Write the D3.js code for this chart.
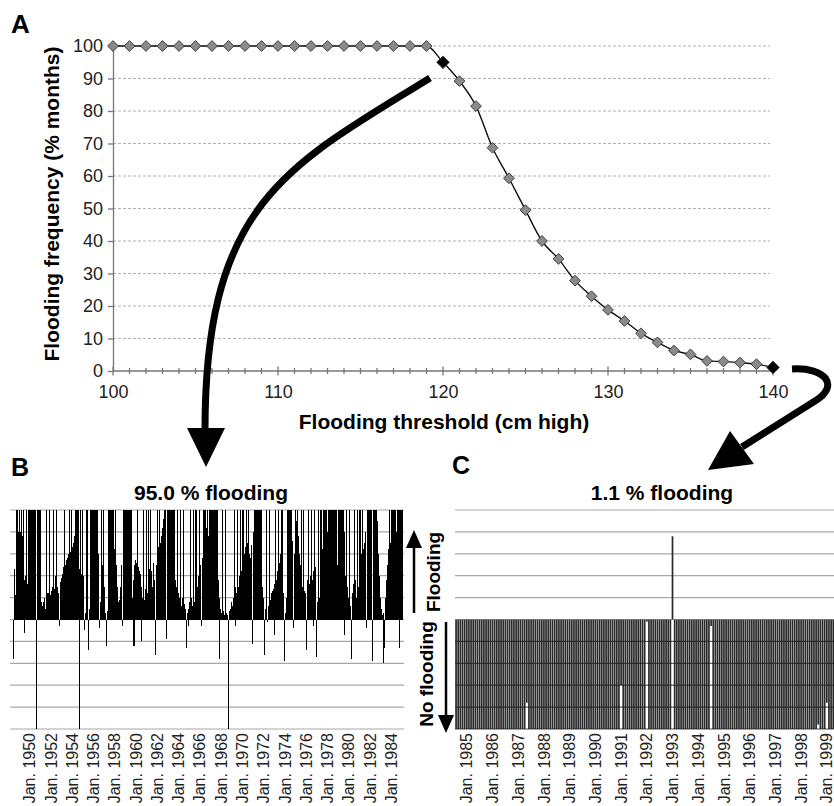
<!DOCTYPE html>
<html>
<head>
<meta charset="utf-8">
<script src="https://cdn.jsdelivr.net/npm/d3@7"></script>
<style>
  body { margin: 0; background: #fff; }
  svg { display: block; font-family: "Liberation Sans", Arial, sans-serif; }
</style>
</head>
<body>
<svg id="chart" width="834" height="806"></svg>
<script>
// ---- panel A: flooding frequency against threshold height
const thresholds = [100,101,102,103,104,105,106,107,108,109,110,111,112,113,114,115,116,117,118,119,120,
  121,122,123,124,125,126,127,128,129,130,131,132,133,134,135,136,137,138,139,140]
const floodFreq = [100,100,100,100,100,100,100,100,100,100,100,100,100,100,100,100,100,100,100,100,95.0,
  89.2,81.5,68.7,59.3,49.5,40.0,34.5,27.8,23.0,18.8,15.4,11.6,8.8,6.3,5.1,3.1,2.9,2.6,2.1,1.1]
const highlighted = [120, 140]
const yTicksA = [0,10,20,30,40,50,60,70,80,90,100]
const xTicksA = [100,110,120,130,140]

// ---- panel B: monthly level above the 120 cm threshold (grid units, bars past +-5 get clipped)
const bStartYear = 1948, bStartMonth = 4   // first bar = May 1948
const bLevels1 = [
  -1.8,2.3,1.1,6,1.2,6,4,6,4,6, 3.8,6,-0.6,1.8,2,6,1.6,6,6,6, 6,6,6,6,6,6,-6,6,6,6,
  0.7,6,0.8,0.6,0.8,1,0.5,6,0.9,1.2, 0.7,6,1.1,1.3,1.5,6,1.4,1.8,2,6, 1.5,1.2,-0.3,1.7,1.9,2.1,2.2,2.4,6,2.5,
  2.7,2.8,3,6,3.1,3.2,6,3.3,3.5,3.8, 6,6,6,6,-6,2.3,6,2.1,6,2, -0.5,0.3,0.4,6,0.3,-1.4,0.5,6,6,6,
  6,6,6,6,6,6,3,-0.4,0.8,6, 2.5,0.5,6,1.5,0.3,-1.2,0.4,6,6,6]
const bLevels2 = [
  6,6,6,6,3.2,6,2.5,1.5,0.8,0.7, 0.9,1.5,2.5,-0.3,6,6,6,6,6,6, 6,6,6,6,1,1.8,-1.2,2.5,2.7,2.6,
  6,2.4,2.2,2.1,1.5,-1,1,6,0.9,1.4, 6,1.2,6,2,2.3,6,2.2,1.5,2.6,1.8, -1.6,2.5,6,3,3.3,6,3.5,3.8,4.2,4.6,
  6,5,6,-0.9,6,6,6,6,6,6, 6,6,6,1.8,1.5,6,1.2,1,6,0.8, 0.6,1,6,0.7,0.5,-1.3,0.3,0.5,-0.3,0.8,
  6,1,0.6,6,0.8,6,1.3,6,1.5,2, 6,2.5,-0.3,2.8,6,6,4.4,6,4.2,6]
const bLevels3 = [
  3.8,6,6,6,6,6,6,6,6,6, 6,1.8,1,-1.8,0.5,0.3,6,0.4,0.2,6, 0.3,0.2,0.1,-6,0.4,0.5,0.8,0.6,1,6,
  1.5,-0.3,1.2,6,1.5,2,6,2.2,2.5,6, 2.6,3,3.3,6,3.5,6,3,2.5,2.8,3.4, -1.1,4,6,6,6,6,6,6,6,6,
  6,1.5,1,-1.6,0.5,0.8,6,-0.1,0.6,6, 0.9,1.2,1.3,1.4,-0.7,1.6,6,1.8,2.2,6, 2.6,3,3.4,6,3,1.2,-1.9,0.3,1,6,
  6,6,4,6,6,3.6,-0.4,3,6,4.5, 6,6,3.8,3,2.5,6,1.5,6,1.3,0.8]
const bLevels4 = [
  1.2,-1.4,1.8,6,1.6,2,6,1.8,2.2,-0.3, 6,2.4,-1.7,0.8,6,1,1.5,6,2.5,3.2, 6,6,6,6,4,6,3.5,6,6,6,
  6,6,6,6,3,6,2.5,6,6,6, 6,6,6,4,-0.7,2,6,1.5,1,6, 0.6,-1.8,0.8,1.2,1.6,6,1.8,1,6,1.5,
  2,6,2.5,3,6,3.2,3.5,4,-0.4,6, 6,6,6,6,6,-1.9,6,6,6,6, 6,4.5,3,2,1,0.5,0.2,-2,0.3,-1.3,
  1,1.8,2.5,3.2,6,3.5,4,6,6,6, 6,6,4,6,6,6,-1.3,6,6,6]
const bLabelYears = [1950,1952,1954,1956,1958,1960,1962,1964,1966,1968,1970,1972,1974,1976,1978,1980,1982,1984]

// ---- panel C: monthly level above the 140 cm threshold
const cStartYear = 1984, cStartMonth = 7   // first bar = Aug 1984
const cLevels = [
  -6,-6,-6,-6,-6,                                   // 1984
  -6,-6,-6,-6,-6,-6,-6,-6,-6,-6,-6,-6,              // 1985
  -6,-6,-6,-6,-6,-6,-6,-6,-6,-6,-6,-6,              // 1986
  -6,-6,-6,-6,-3.8,-6,-6,-6,-6,-6,-6,-6,            // 1987
  -6,-6,-6,-6,-6,-6,-6,-6,-6,-6,-6,-6,              // 1988
  -6,-6,-6,-6,-6,-6,-6,-6,-6,-6,-6,-6,              // 1989
  -6,-6,-6,-6,-6,-6,-6,-6,-6,-6,-6,-6,              // 1990
  -3.0,-6,-6,-6,-6,-6,-6,-6,-6,-6,-6,-6,            // 1991
  -0.1,-6,-6,-6,-6,-6,-6,-6,-6,-6,-6,-6,            // 1992
  3.8,-6,-6,-6,-6,-6,-6,-6,-6,-6,-6,-6,             // 1993
  -6,-6,-6,-6,-6,-6,-0.3,-6,-6,-6,-6,-6,            // 1994
  -6,-6,-6,-6,-6,-6,-6,-6,-6,-6,-6,-6,              // 1995
  -6,-6,-6,-6,-6,-6,-6,-6,-6,-6,-6,-6,              // 1996
  -6,-6,-6,-6,-6,-6,-6,-6,-6,-6,-6,-6,              // 1997
  -6,-6,-6,-6,-6,-6,-6,-6,-4.8,-6,-6,-6,            // 1998
  -3.8,-6,-6,-6,-6,-6,-6]                           // 1999
const cLabelYears = [1985,1986,1987,1988,1989,1990,1991,1992,1993,1994,1995,1996,1997,1998,1999]
const gridLevels = [-5,-4,-3,-2,-1,0,1,2,3,4,5]

const bLevels = [...bLevels1, ...bLevels2, ...bLevels3, ...bLevels4]

const svg = d3.select('#chart')
const font = '"Liberation Sans", Arial, sans-serif'

// ================= panel A =================
const xA = d3.scaleLinear().domain([100, 140]).range([113, 773])
const yA = d3.scaleLinear().domain([0, 100]).range([371, 46])

svg.append('text').text('A').attr('x', 11).attr('y', 33)
  .attr('font-size', 26).attr('font-weight', 'bold')

// dashed gridlines
svg.append('g').selectAll('line').data(yTicksA.filter(d => d > 0)).join('line')
  .attr('x1', xA(100)).attr('x2', 770)
  .attr('y1', d => yA(d)).attr('y2', d => yA(d))
  .attr('stroke', '#b0b0b0').attr('stroke-width', 1).attr('stroke-dasharray', '3,2')

// y axis
const yAxis = svg.append('g').attr('transform', `translate(${xA(100)},0)`)
  .call(d3.axisLeft(yA).tickValues(yTicksA).tickSize(5).tickSizeOuter(0).tickPadding(5))
yAxis.select('.domain').attr('stroke', '#777').attr('stroke-width', 1.3)
yAxis.selectAll('.tick line').attr('stroke', '#777').attr('stroke-width', 1.3)
yAxis.selectAll('.tick text').attr('font-size', 18).attr('font-family', font).attr('fill', '#222')

// x axis with ticks crossing the line
svg.append('line').attr('x1', xA(100)).attr('x2', xA(140))
  .attr('y1', yA(0)).attr('y2', yA(0)).attr('stroke', '#777').attr('stroke-width', 1.5)
svg.append('g').selectAll('line').data(thresholds).join('line')
  .attr('x1', d => xA(d)).attr('x2', d => xA(d))
  .attr('y1', d => yA(0) - (d % 10 === 0 ? 4.5 : 3))
  .attr('y2', d => yA(0) + (d % 10 === 0 ? 4.5 : 3))
  .attr('stroke', '#777').attr('stroke-width', 1.3)
const xAxis = svg.append('g').attr('transform', `translate(0,${yA(0)})`)
  .call(d3.axisBottom(xA).tickValues(xTicksA).tickSize(0).tickPadding(14).tickFormat(d3.format('d')))
xAxis.select('.domain').remove()
xAxis.selectAll('.tick text').attr('font-size', 18).attr('font-family', font).attr('fill', '#222')

svg.append('text').text('Flooding threshold (cm high)')
  .attr('x', 444).attr('y', 429).attr('text-anchor', 'middle')
  .attr('font-size', 21).attr('font-weight', 'bold')
svg.append('text').text('Flooding frequency (% months)')
  .attr('transform', 'translate(59,204) rotate(-90)').attr('text-anchor', 'middle')
  .attr('font-size', 21).attr('font-weight', 'bold')

// smoothed line + diamonds
const points = thresholds.map((t, i) => ({ t: t, f: floodFreq[i] }))
svg.append('path').datum(points)
  .attr('d', d3.line().x(d => xA(d.t)).y(d => yA(d.f)).curve(d3.curveMonotoneX))
  .attr('fill', 'none').attr('stroke', '#111').attr('stroke-width', 1.4)
svg.append('g').selectAll('path').data(points).join('path')
  .attr('d', d => d3.symbol().type(d3.symbolSquare).size(highlighted.includes(d.t) ? 80 : 58)())
  .attr('transform', d => `translate(${xA(d.t)},${yA(d.f)}) rotate(45)`)
  .attr('fill', d => highlighted.includes(d.t) ? '#000' : '#8a8a8a')
  .attr('stroke', '#3a3a3a').attr('stroke-width', 0.9)

// ================= big arrows =================
svg.append('path').attr('d', 'M430,78 C290,165 205,200 205,430')
  .attr('fill', 'none').attr('stroke', '#000').attr('stroke-width', 7)
svg.append('path').attr('d', 'M187,428 L225,428 L206,467 Z').attr('fill', '#000')
svg.append('path').attr('d', 'M792,369 C826,367 840,386 815,401 L742,447')
  .attr('fill', 'none').attr('stroke', '#000').attr('stroke-width', 7)
svg.append('path').attr('d', 'M708,470 L730,431 L754,464 Z').attr('fill', '#000')

// ================= panels B and C =================
const yBC = d3.scaleLinear().domain([-5, 5]).range([729, 510])
const defs = svg.append('defs')
defs.append('clipPath').attr('id', 'clipBC').append('rect')
  .attr('x', 0).attr('y', yBC(5)).attr('width', 834).attr('height', yBC(-5) - yBC(5))

function monthPanel(levels, startYear, startMonth, labelYears, x0, x1, gridX0, gridX1, opts) {
  const x = d3.scaleBand().domain(d3.range(levels.length)).range([x0, x1]).padding(0)
  const g = svg.append('g')
  g.append('g').selectAll('line').data(gridLevels).join('line')
    .attr('x1', gridX0).attr('x2', gridX1)
    .attr('y1', d => yBC(d)).attr('y2', d => yBC(d))
    .attr('stroke', '#a8a8a8').attr('stroke-width', 1.2)
  const bw = x.bandwidth() * opts.widthFactor
  g.append('g').attr('clip-path', 'url(#clipBC)')
    .attr('shape-rendering', opts.crisp ? 'crispEdges' : 'auto')
    .selectAll('rect').data(levels).join('rect')
    .attr('x', (d, i) => x(i) + (x.bandwidth() - bw) / 2)
    .attr('width', bw)
    .attr('y', d => Math.min(yBC(d), yBC(0)))
    .attr('height', d => Math.abs(yBC(d) - yBC(0)))
    .attr('fill', opts.fill)
  if (opts.overGrid) {
    g.append('g').selectAll('line').data(gridLevels.filter(d => d < 0)).join('line')
      .attr('x1', gridX0).attr('x2', gridX1)
      .attr('y1', d => yBC(d)).attr('y2', d => yBC(d))
      .attr('stroke', 'rgba(0,0,0,0.45)').attr('stroke-width', 1)
  }
  g.append('g').selectAll('text').data(labelYears).join('text')
    .text(d => `Jan. ${d}`)
    .attr('transform', d => {
      const i = (d - startYear) * 12 - startMonth
      return `translate(${x(i) + x.bandwidth() / 2 + opts.labelShift},733) rotate(-90)`
    })
    .attr('dy', '0.35em').attr('text-anchor', 'end')
    .attr('font-size', 16).attr('fill', '#222')
}

monthPanel(bLevels, bStartYear, bStartMonth, bLabelYears, 13, 403, 10, 404,
  { fill: '#000', widthFactor: 1.2, overGrid: false, crisp: true, labelShift: -1.5 })
monthPanel(cLevels, cStartYear, cStartMonth, cLabelYears, 455, 455 + cLevels.length * 2.143, 455, 834,
  { fill: '#2b2b2b', widthFactor: 0.8, overGrid: true, crisp: false, labelShift: 0 })

svg.append('text').text('B').attr('x', 11).attr('y', 476)
  .attr('font-size', 25).attr('font-weight', 'bold')
svg.append('text').text('C').attr('x', 452).attr('y', 474)
  .attr('font-size', 25).attr('font-weight', 'bold')
svg.append('text').text('95.0 % flooding').attr('x', 211).attr('y', 500)
  .attr('text-anchor', 'middle').attr('font-size', 21).attr('font-weight', 'bold')
svg.append('text').text('1.1 % flooding').attr('x', 662).attr('y', 500)
  .attr('text-anchor', 'middle').attr('font-size', 21).attr('font-weight', 'bold')

// flooding / no flooding markers between the panels
svg.append('line').attr('x1', 414).attr('x2', 414).attr('y1', 613).attr('y2', 545)
  .attr('stroke', '#000').attr('stroke-width', 2.5)
svg.append('path').attr('d', 'M406,548 L422,548 L414,530 Z').attr('fill', '#000')
svg.append('text').text('Flooding').attr('transform', 'translate(440,572) rotate(-90)')
  .attr('text-anchor', 'middle').attr('font-size', 19).attr('font-weight', 'bold')
svg.append('line').attr('x1', 446).attr('x2', 446).attr('y1', 622).attr('y2', 717)
  .attr('stroke', '#000').attr('stroke-width', 2.5)
svg.append('path').attr('d', 'M438,715 L454,715 L446,733 Z').attr('fill', '#000')
svg.append('text').text('No flooding').attr('transform', 'translate(433,674) rotate(-90)')
  .attr('text-anchor', 'middle').attr('font-size', 19).attr('font-weight', 'bold')
</script>
</body>
</html>
